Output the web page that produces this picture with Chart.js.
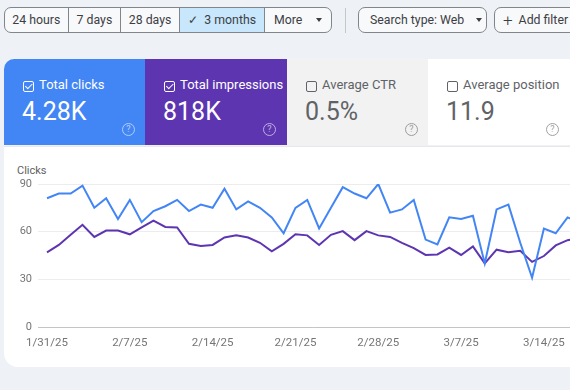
<!DOCTYPE html>
<html>
<head>
<meta charset="utf-8">
<script src="https://cdn.jsdelivr.net/npm/chart.js@4"></script>
<style>
  html, body { margin: 0; padding: 0; }
  body {
    width: 570px; height: 390px; overflow: hidden; position: relative;
    background: #eef1f6; font-family: Roboto, 'Noto Sans', sans-serif; color: #3c4043;
  }
  .seg { position: absolute; top: 7px; height: 26px; border: 1px solid #80868b; box-sizing: border-box;
    border-radius: 7px; display: flex; overflow: hidden; background: #f8f9fb; }
  .seg div { height: 100%; display: flex; align-items: center; justify-content: center; white-space: nowrap;
    font-size: 12.3px; border-right: 1px solid #80868b; box-sizing: border-box; }
  .seg div:last-child { border-right: none; }
  .seg .on { background: #c8e6fc; }
  .btn { position: absolute; top: 7px; height: 26px; border: 1px solid #80868b; box-sizing: border-box;
    border-radius: 7px; display: flex; align-items: center; font-size: 12.3px; background: #f8f9fb; white-space: nowrap; }
  .tri { display: inline-block; width: 0; height: 0; border-left: 3.5px solid transparent;
    border-right: 3.5px solid transparent; border-top: 4px solid #3c4043; margin-left: 14px; }
  .sep { position: absolute; left: 345px; top: 8px; width: 1px; height: 25px; background: #c4c7c5; }
  .card { position: absolute; top: 59px; height: 86px; width: 142px; box-sizing: border-box; }
  .card .cb { position: absolute; left: 19px; top: 22px; width: 11px; height: 11px; box-sizing: border-box;
    border: 1.5px solid currentColor; border-radius: 2px; }
  .card .cb.chk::after { content: ''; position: absolute; left: 2.5px; top: 0px; width: 3px; height: 5.5px;
    border-right: 1.5px solid currentColor; border-bottom: 1.5px solid currentColor; transform: rotate(45deg); }
  .card .lbl { position: absolute; left: 35px; top: 18px; font-size: 13px; line-height: 16px; white-space: nowrap; }
  .card .val { position: absolute; left: 18px; top: 38px; font-size: 25px; line-height: 30px; }
  .card .q { position: absolute; left: 118px; top: 64px; width: 13px; height: 13px; box-sizing: border-box;
    border: 1px solid currentColor; border-radius: 50%; font-size: 9px; line-height: 11px; text-align: center; opacity: 0.6; }
  #chartCard { position: absolute; left: 4px; top: 146px; width: 600px; height: 221px; background: #fff;
    border-bottom-left-radius: 14px; border-top: 1px solid #e8e8e8; box-sizing: border-box; overflow: hidden; }
  #clicksLbl { position: absolute; left: 17px; top: 164px; font-size: 11px; color: #616161; }
  #wrap { position: absolute; left: 0; top: 150px; width: 600px; height: 205px; }
</style>
</head>
<body>
<div class="seg" style="left:4px; width:328px;">
  <div style="width:64px;">24 hours</div>
  <div style="width:53px;">7 days</div>
  <div style="width:59px;">28 days</div>
  <div class="on" style="width:86px;">&#10003;&nbsp;&nbsp;3 months</div>
  <div style="width:66px;">More<span class="tri"></span></div>
</div>
<div class="sep"></div>
<div class="btn" style="left:358px; width:129px; padding-left:11px;">Search type: Web<span class="tri" style="margin-left:12px;"></span></div>
<div class="btn" style="left:494px; width:100px; padding-left:8px;"><span style="font-size:17px; font-weight:300; margin-right:6px; line-height:17px;">+</span>Add filter</div>

<div class="card" style="left:4px; background:#4285f4; color:#fff; border-top-left-radius:10px;">
  <div class="cb chk"></div><div class="lbl">Total clicks</div><div class="val">4.28K</div><div class="q">?</div>
</div>
<div class="card" style="left:145px; background:#5e35b1; color:#fff;">
  <div class="cb chk"></div><div class="lbl">Total impressions</div><div class="val">818K</div><div class="q">?</div>
</div>
<div class="card" style="left:287px; width:141px; background:#f2f2f2; color:#5f6368;">
  <div class="cb"></div><div class="lbl">Average CTR</div><div class="val">0.5%</div><div class="q">?</div>
</div>
<div class="card" style="left:428px; background:#fff; color:#5f6368;">
  <div class="cb"></div><div class="lbl">Average position</div><div class="val">11.9</div><div class="q">?</div>
</div>

<div id="chartCard"></div>
<div id="clicksLbl">Clicks</div>
<div id="wrap"><canvas id="gscChart" width="600" height="205"></canvas></div>

<script>
'use strict';

// one category per day
const days = [
  '1/31/25', '2/1/25', '2/2/25', '2/3/25', '2/4/25', '2/5/25', '2/6/25', '2/7/25',
  '2/8/25', '2/9/25', '2/10/25', '2/11/25', '2/12/25', '2/13/25', '2/14/25',
  '2/15/25', '2/16/25', '2/17/25', '2/18/25', '2/19/25', '2/20/25', '2/21/25',
  '2/22/25', '2/23/25', '2/24/25', '2/25/25', '2/26/25', '2/27/25', '2/28/25',
  '3/1/25', '3/2/25', '3/3/25', '3/4/25', '3/5/25', '3/6/25', '3/7/25',
  '3/8/25', '3/9/25', '3/10/25', '3/11/25', '3/12/25', '3/13/25', '3/14/25',
  '3/15/25', '3/16/25', '3/17/25'
];
const xTickLabels = ['1/31/25', '2/7/25', '2/14/25', '2/21/25', '2/28/25', '3/7/25', '3/14/25'];
const clicks = [
  81, 84, 84, 89, 75, 81, 68, 80, 66, 73, 76, 80, 73, 77, 75, 87, 74, 79, 75, 69,
  59, 75, 80, 62, 75, 88, 84, 81, 90, 72, 74, 80, 55, 52, 69, 68, 70, 40, 74, 77,
  53, 31, 62, 59, 69, 66
];
// impressions in thousands (right axis is cut off in the screenshot)
const impressionsK = [
  14.1, 15.5, 17.4, 19.3, 17.0, 18.2, 18.2, 17.5, 18.8, 20.1, 18.9, 18.8, 15.7, 15.3,
  15.5, 16.9, 17.3, 16.9, 15.9, 14.3, 15.7, 17.5, 17.3, 15.5, 17.4, 18.1, 16.4, 18.1,
  17.3, 17.0, 15.9, 14.9, 13.6, 13.7, 15.0, 13.6, 15.2, 12.0, 14.6, 14.1, 14.4, 12.3,
  13.4, 15.4, 16.4, 16.8
];
const yTicks = [0, 30, 60, 90];
const impressionsMax = 27;

const BLUE = '#4285f4';
const PURPLE = '#5e35b1';
const GRID = '#ececec';
const ZERO_LINE = '#c4c4c4';

const gridColor = (ctx) => (ctx.tick && ctx.tick.value === 0 ? ZERO_LINE : GRID);

new Chart(document.getElementById('gscChart').getContext('2d'), {
  type: 'line',
  data: {
    labels: days,
    datasets: [
      {
        label: 'Clicks',
        data: clicks,
        yAxisID: 'y',
        borderColor: BLUE,
        borderWidth: 2,
        pointRadius: 0,
        tension: 0,
        fill: false,
      },
      {
        label: 'Impressions',
        data: impressionsK,
        yAxisID: 'y1',
        borderColor: PURPLE,
        borderWidth: 2,
        pointRadius: 0,
        tension: 0,
        fill: false,
      }
    ]
  },
  options: {
    responsive: false,
    animation: false,
    devicePixelRatio: 1,
    layout: { padding: { top: 34, right: 20.6, left: 0, bottom: 0 } },
    plugins: { legend: { display: false }, tooltip: { enabled: false } },
    scales: {
      x: {
        grid: { display: false, drawTicks: false },
        border: { display: false },
        ticks: {
          autoSkip: false,
          maxRotation: 0,
          padding: 9,
          color: '#757575',
          font: { family: 'Roboto', size: 11.5 },
          callback: (v, i) => (xTickLabels.includes(days[i]) ? days[i] : ''),
        },
        afterFit: (s) => { s.height = 28; },
      },
      y: {
        min: 0,
        max: 90,
        afterBuildTicks: (s) => { s.ticks = yTicks.map(v => ({ value: v })); },
        grid: { color: gridColor, tickColor: gridColor, tickLength: 9, lineWidth: 1 },
        border: { display: false },
        ticks: { padding: 6, color: '#757575', font: { family: 'Roboto', size: 11 } },
        afterFit: (s) => { s.width = 47; },
      },
      y1: {
        display: false,
        min: 0,
        max: impressionsMax,
      }
    }
  }
});
</script>
</body>
</html>
